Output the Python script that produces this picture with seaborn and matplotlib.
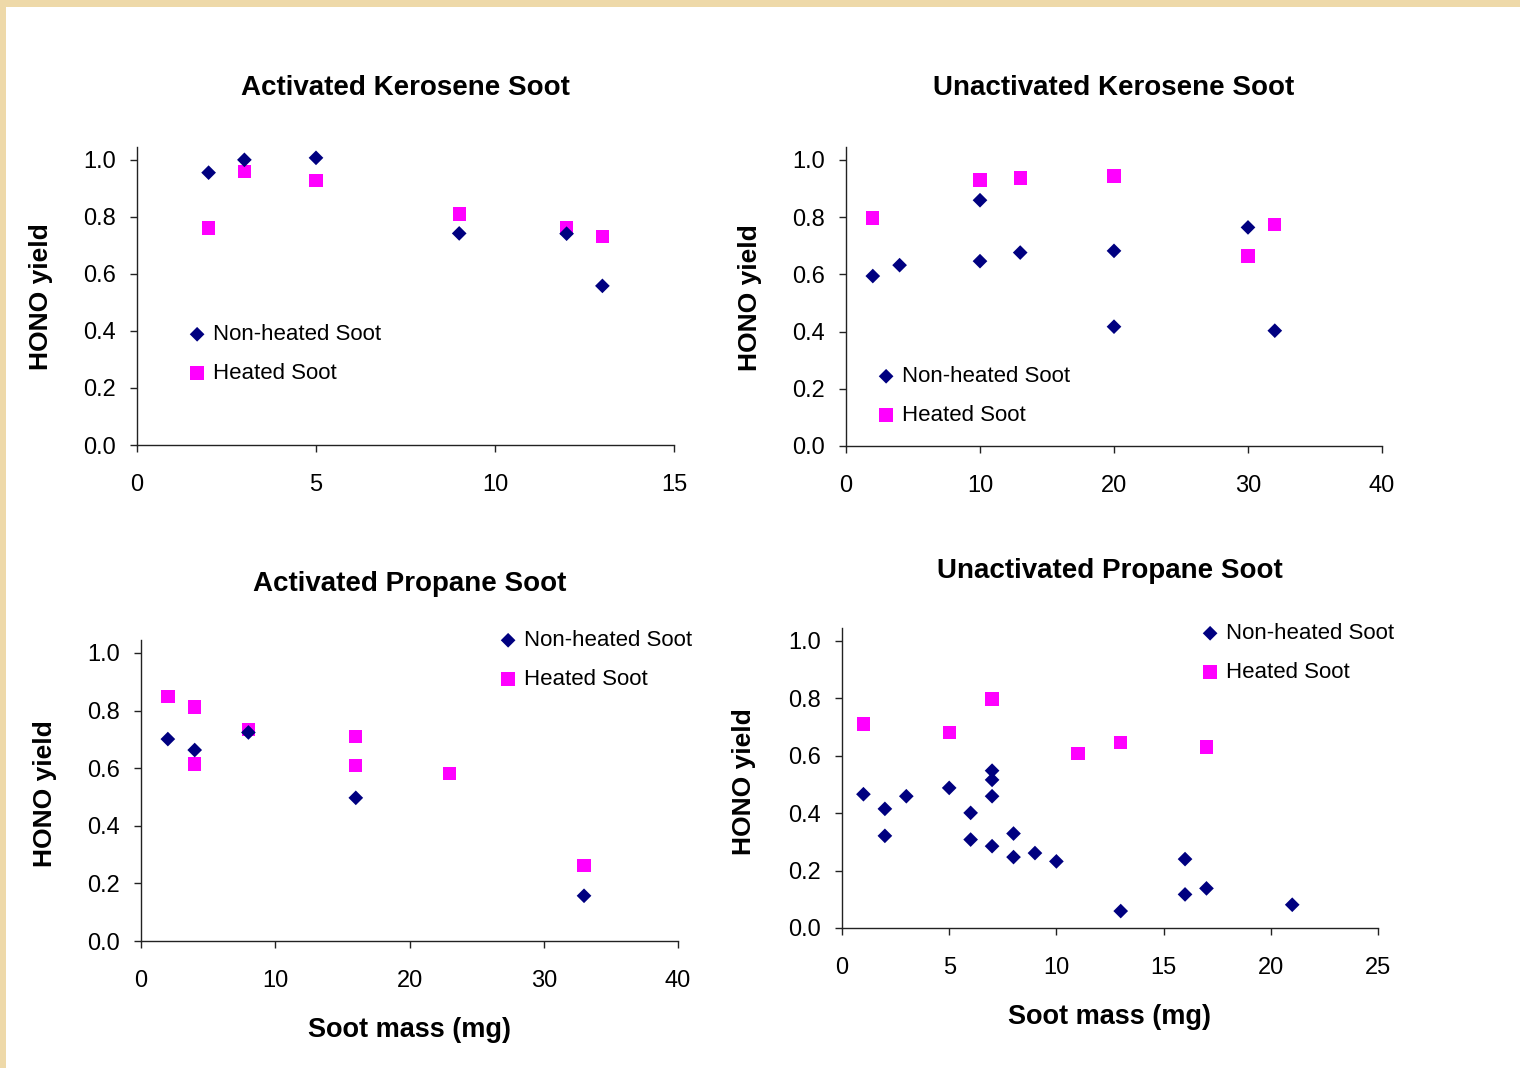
import matplotlib
matplotlib.use("Agg")
import matplotlib.pyplot as plt
from matplotlib.patches import Rectangle
import seaborn as sns
import pandas as pd

# ---------------- data ----------------
ak_nh_x = [2, 3, 5, 9, 12, 13]
ak_nh_y = [0.955, 1.0, 1.007, 0.742, 0.741, 0.558]
ak_h_x = [2, 3, 5, 9, 12, 13]
ak_h_y = [0.761, 0.958, 0.928, 0.81, 0.761, 0.730]

uk_nh_x = [2, 4, 10, 10, 13, 20, 20, 30, 32]
uk_nh_y = [0.594, 0.632, 0.646, 0.859, 0.676, 0.682, 0.417, 0.764, 0.403]
uk_h_x = [2, 10, 13, 20, 30, 32]
uk_h_y = [0.797, 0.93, 0.937, 0.944, 0.664, 0.775]

ap_nh_x = [2, 4, 8, 16, 33]
ap_nh_y = [0.701, 0.663, 0.724, 0.497, 0.157]
ap_h_x = [2, 4, 4, 8, 16, 16, 23, 33]
ap_h_y = [0.848, 0.812, 0.615, 0.734, 0.710, 0.609, 0.581, 0.261]

up_nh_x = [1, 2, 2, 3, 5, 6, 6, 7, 7, 7, 7, 8, 8, 9, 10, 13, 16, 16, 17, 21]
up_nh_y = [0.466, 0.415, 0.321, 0.459, 0.488, 0.401, 0.308, 0.548, 0.516, 0.459,
           0.285, 0.329, 0.247, 0.261, 0.232, 0.059, 0.240, 0.117, 0.138, 0.081]
up_h_x = [1, 5, 7, 11, 13, 17]
up_h_y = [0.711, 0.681, 0.798, 0.609, 0.645, 0.630]

titles = ["Activated Kerosene Soot", "Unactivated Kerosene Soot",
          "Activated Propane Soot", "Unactivated Propane Soot"]
series_labels = ["Non-heated Soot", "Heated Soot"]
y_label = "HONO yield"
x_label = "Soot mass (mg)"
y_ticks = [0.0, 0.2, 0.4, 0.6, 0.8, 1.0]
x_ticks_list = [[0, 5, 10, 15], [0, 10, 20, 30, 40], [0, 10, 20, 30, 40],
                [0, 5, 10, 15, 20, 25]]

# ---------------- style ----------------
sns.set_theme(style="white")
plt.rcParams["font.family"] = ["Liberation Sans", "DejaVu Sans"]
plt.rcParams["text.color"] = "black"
plt.rcParams["axes.labelcolor"] = "black"

W, H = 1520, 1068
fig = plt.figure(figsize=(W / 100, H / 100), dpi=100, facecolor="#EED9A9")
fig.patches.append(Rectangle((6 / W, 0), 1, (H - 7) / H, transform=fig.transFigure,
                             facecolor="white", edgecolor="none", zorder=-5))

NAVY = "#000080"
MAG = "#FF00FF"


def px_axes(l, r, b, t):
    return fig.add_axes([l / W, 1 - b / H, (r - l) / W, (b - t) / H])


# axes boxes in pixels: left, right, bottom(y=0), top
boxes = [(137, 674, 445, 147), (846, 1382, 446, 147),
         (141, 678, 941, 640), (842, 1378, 928, 628)]
xmaxes = [15, 40, 40, 25]
datasets = [(ak_nh_x, ak_nh_y, ak_h_x, ak_h_y),
            (uk_nh_x, uk_nh_y, uk_h_x, uk_h_y),
            (ap_nh_x, ap_nh_y, ap_h_x, ap_h_y),
            (up_nh_x, up_nh_y, up_h_x, up_h_y)]
title_y = [1.198, 1.197, 1.186, 1.19]
ylab_x = [-0.179, -0.180, -0.179, -0.183]
ylab_y = [0.497, 0.497, 0.49, 0.487]
# legend anchor (handle left px, centre y px)
leg_pos = [(186, 354), (875, 396), (497, 660), (1199, 653)]

for i in range(4):
    l, r, b, t = boxes[i]
    ax = px_axes(l, r, b, t)
    ax.set_facecolor("none")
    ax.set_zorder(2)
    nhx, nhy, hx, hy = datasets[i]
    df_nh = pd.DataFrame({"x": nhx, "y": nhy})
    df_h = pd.DataFrame({"x": hx, "y": hy})
    sns.scatterplot(data=df_nh, x="x", y="y", ax=ax, marker="D", s=56, color=NAVY,
                    edgecolor="none", linewidth=0, label=series_labels[0], zorder=3)
    sns.scatterplot(data=df_h, x="x", y="y", ax=ax, marker="s", s=92, color=MAG,
                    edgecolor="none", linewidth=0, label=series_labels[1], zorder=2)
    ax.set_xlim(0, xmaxes[i])
    ax.set_ylim(0, 1.045)
    ax.set_xticks(x_ticks_list[i])
    ax.set_xticklabels([str(v) for v in x_ticks_list[i]])
    ax.set_yticks(y_ticks)
    ax.set_yticklabels([f"{v:.1f}" for v in y_ticks])
    for side in ["top", "right"]:
        ax.spines[side].set_visible(False)
    for side in ["left", "bottom"]:
        ax.spines[side].set_color("#222222")
        ax.spines[side].set_linewidth(1.0)
    ax.tick_params(axis="both", which="major", direction="out", length=5, width=1.0,
                   color="#222222", labelsize=17, labelcolor="black")
    ax.tick_params(axis="x", pad=16, bottom=True)
    ax.tick_params(axis="y", pad=10, left=True)
    ax.set_title(titles[i], fontsize=20, fontweight="bold", y=title_y[i], pad=0,
                 va="center", color="black")
    ax.set_ylabel(y_label, fontsize=19, fontweight="bold", va="center", color="black")
    ax.yaxis.set_label_coords(ylab_x[i], ylab_y[i])
    if i >= 2:
        ax.set_xlabel(x_label, fontsize=19.5, fontweight="bold", va="center",
                      color="black")
        ax.xaxis.set_label_coords(0.5, -0.296)
    else:
        ax.set_xlabel("")
    lx, ly = leg_pos[i]
    ax.legend(loc="center left", bbox_to_anchor=(lx / W, 1 - ly / H),
              bbox_transform=fig.transFigure, frameon=False, fontsize=16,
              handlelength=1.0, handletextpad=0.22, borderpad=0, borderaxespad=0,
              labelspacing=0.8, scatterpoints=1)

fig.savefig("out.png", dpi=100, facecolor=fig.get_facecolor())
